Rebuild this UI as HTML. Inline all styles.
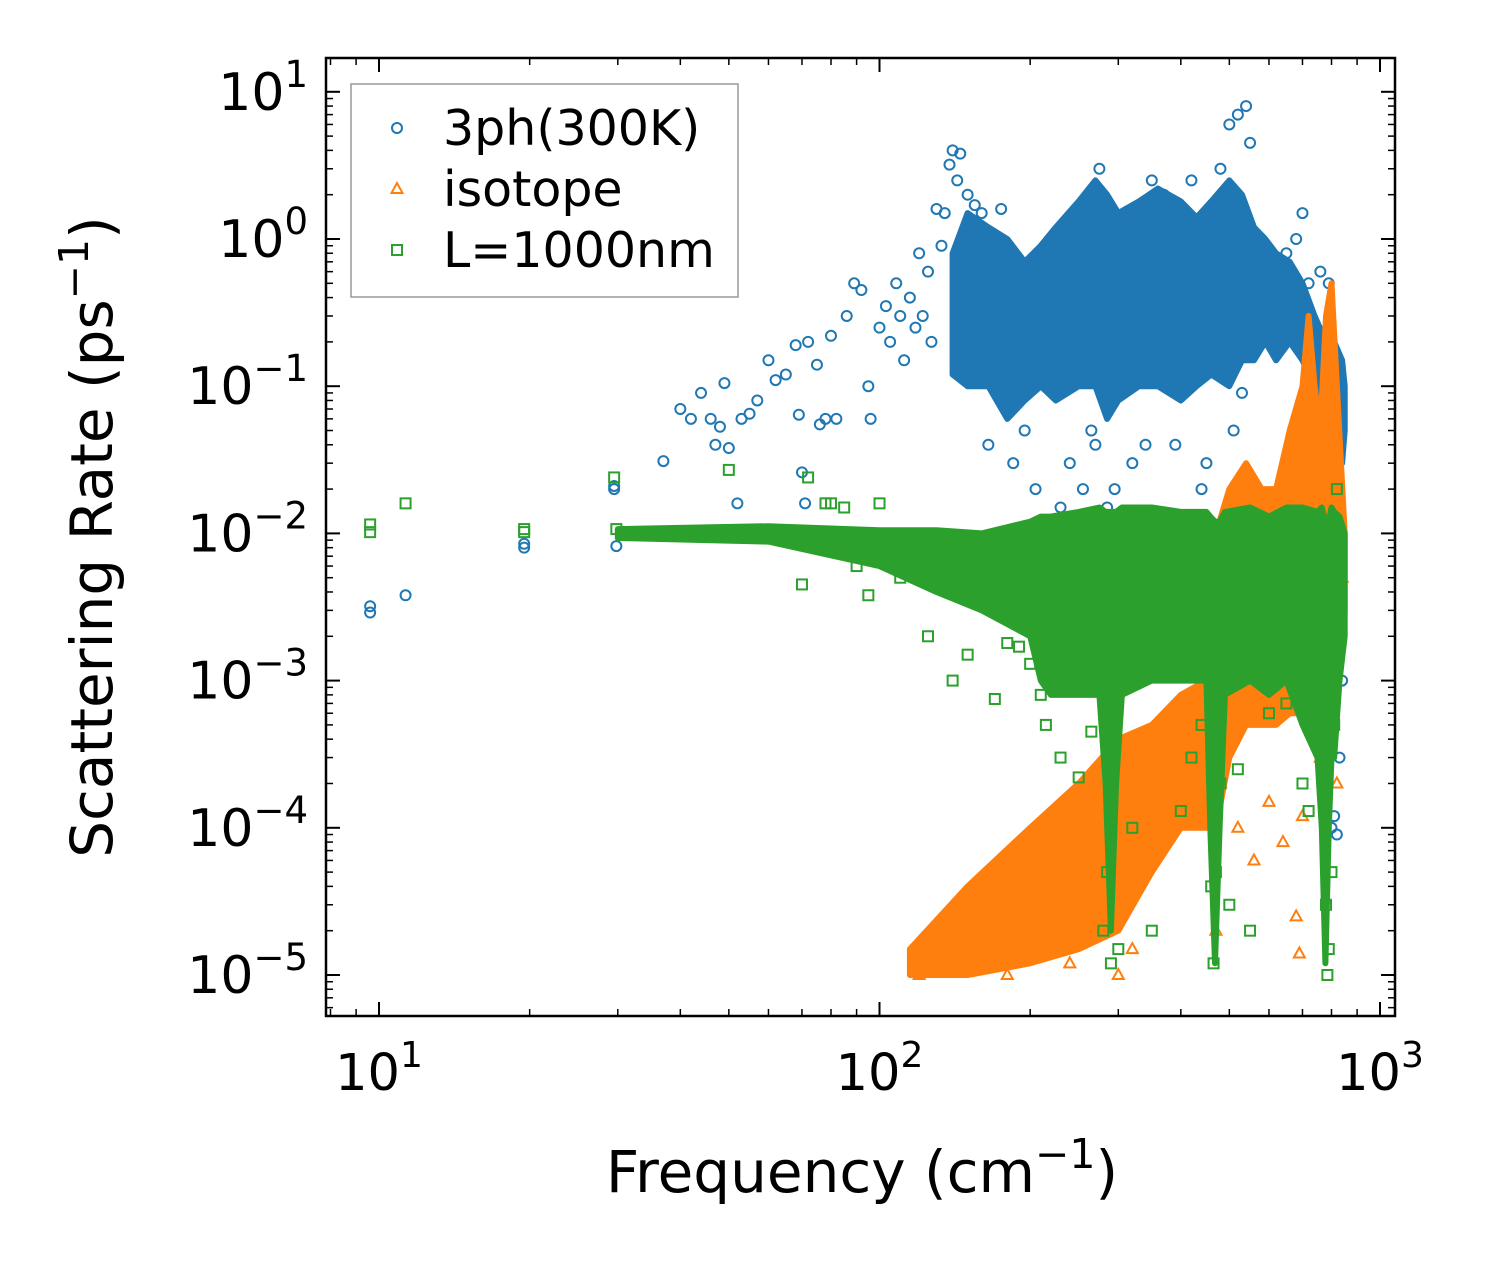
<!DOCTYPE html>
<html><head><meta charset="utf-8"><style>
html,body{margin:0;padding:0;background:#fff;}
svg{display:block;font-family:"DejaVu Sans","Liberation Sans",sans-serif;}
</style></head><body>
<svg id="chart" width="1489" height="1265" viewBox="0 0 1489 1265" xmlns="http://www.w3.org/2000/svg">
<rect width="1489" height="1265" fill="#fff"/>
<defs><clipPath id="clip"><rect x="326" y="58" width="1069" height="958"/></clipPath></defs>
<g id="plot"></g>
<g id="axes"></g>
</svg>
<script>
// ---- data (frequency cm^-1, rate ps^-1) ----
const blueBandF  = [140,150,165,180,195,210,225,250,270,285,300,330,360,400,430,460,500,530,560,590,620,660,700,740,780,810,840,850];
const blueBandLo = [0.12,0.1,0.1,0.06,0.08,0.1,0.08,0.1,0.1,0.06,0.08,0.1,0.1,0.08,0.1,0.12,0.1,0.15,0.15,0.2,0.15,0.2,0.15,0.1,0.06,0.03,0.03,0.05];
const blueBandHi = [0.8,1.5,1.2,1.0,0.7,0.9,1.2,1.8,2.5,2.0,1.5,1.8,2.2,1.8,1.4,1.8,2.5,2.0,1.2,1.0,0.8,0.7,0.5,0.3,0.2,0.2,0.15,0.1];
const bluePtsF = [9.6,9.6,11.3,19.5,19.5,29.5,29.5,29.8,37,40,42,44,46,47,48,49,50,52,53,55,57,60,62,65,68,69,70,71,72,75,76,78,80,82,86,89,92,95,96,100,103,105,108,110,112,115,118,120,122,125,127,130,133,135,138,140,143,145,150,155,160,165,170,175,185,195,205,215,230,240,255,265,270,275,285,295,310,320,340,350,370,390,410,420,440,450,470,480,500,510,520,530,540,550,600,650,680,700,720,760,780,790,800,810,820,830,840];
const bluePtsY = [0.0032,0.0029,0.0038,0.0085,0.008,0.02,0.021,0.0082,0.031,0.07,0.06,0.09,0.06,0.04,0.053,0.105,0.038,0.016,0.06,0.065,0.08,0.15,0.11,0.12,0.19,0.064,0.026,0.016,0.2,0.14,0.055,0.06,0.22,0.06,0.3,0.5,0.45,0.1,0.06,0.25,0.35,0.2,0.5,0.3,0.15,0.4,0.25,0.8,0.3,0.6,0.2,1.6,0.9,1.5,3.2,4.0,2.5,3.8,2.0,1.7,1.5,0.04,0.5,1.6,0.03,0.05,0.02,0.01,0.015,0.03,0.02,0.05,0.04,3.0,0.015,0.02,0.012,0.03,0.04,2.5,2.0,0.04,0.01,2.5,0.02,0.03,1.2,3.0,6.0,0.05,7.0,0.09,8.0,4.5,0.3,0.8,1.0,1.5,0.5,0.6,0.05,0.5,0.0001,0.00012,0.00009,0.0003,0.001,0.005,0.08];
const orgBandF  = [115,150,200,250,300,350,400,450,470,500,540,580,620,660,700,720,740,760,780,800,820,850];
const orgBandLo = [1e-5,1e-5,1.2e-5,1.5e-5,2e-5,5e-5,1e-4,1e-4,1e-4,3e-4,5e-4,5e-4,5e-4,6e-4,6e-4,5e-4,5e-4,5e-4,3e-4,3e-4,1e-3,3e-3];
const orgBandHi = [1.5e-5,4e-5,1e-4,2e-4,4e-4,5e-4,8e-4,1e-3,0.01,0.02,0.03,0.02,0.02,0.05,0.1,0.3,0.1,0.05,0.3,0.5,0.1,0.01];
const orgPtsF = [120,135,160,180,240,300,320,380,470,480,520,560,600,640,680,690,700,760,820,830,840];
const orgPtsY = [1e-5,1.2e-5,1.1e-5,1e-5,1.2e-5,1e-5,1.5e-5,3e-4,2e-5,2e-4,1e-4,6e-5,1.5e-4,8e-5,2.5e-5,1.4e-5,1.2e-4,3e-4,2e-4,0.01,5e-3];
const grnBandF  = [30,60,100,130,160,200,210,220,250,275,283,290,297,305,350,400,450,458,468,478,490,550,600,650,700,750,765,778,790,800,810,830,850];
const grnBandLo = [0.0093,0.0088,0.006,0.004,0.003,0.002,0.001,0.0008,0.0008,0.0008,0.0002,2e-5,0.0002,0.0008,0.001,0.001,0.001,0.0001,1.2e-5,0.0001,0.0008,0.001,0.0008,0.001,0.0005,0.0003,0.0001,1.2e-5,0.0001,0.0003,0.0003,0.001,0.002];
const grnBandHi = [0.0107,0.0112,0.0105,0.0105,0.01,0.012,0.013,0.013,0.014,0.015,0.014,0.014,0.014,0.015,0.015,0.014,0.014,0.013,0.012,0.012,0.014,0.015,0.013,0.015,0.015,0.014,0.015,0.012,0.012,0.015,0.014,0.013,0.01];
const grnPtsF = [9.6,9.6,11.3,19.5,19.5,29.5,29.8,50,70,72,78,80,85,90,95,100,110,125,140,150,170,180,190,200,210,215,230,250,265,280,285,290,300,320,350,400,420,440,460,465,470,480,500,520,550,600,650,700,720,760,780,785,790,800,810,820];
const grnPtsY = [0.0115,0.0102,0.016,0.0107,0.0102,0.024,0.0107,0.027,0.0045,0.024,0.016,0.016,0.015,0.006,0.0038,0.016,0.005,0.002,0.001,0.0015,0.00075,0.0018,0.0017,0.0013,0.0008,0.0005,0.0003,0.00022,0.00045,2e-5,5e-5,1.2e-5,1.5e-5,0.0001,2e-5,0.00013,0.0003,0.0005,4e-5,1.2e-5,5e-5,0.0002,3e-5,0.00025,2e-5,0.0006,0.0007,0.0002,0.00013,0.0004,3e-5,1e-5,1.5e-5,5e-5,0.0005,0.02];

// ---- scales ----
const X0=379, PXD=500.5, Y0=975, PYD=147.2;
const L=326,R=1395,T=58,B=1016;
function xs(f){return X0+(Math.log10(f)-1)*PXD;}
function ys(v){return Y0-(Math.log10(v)+5)*PYD;}
const NS="http://www.w3.org/2000/svg";
function mk(tag,attrs,parent){const e=document.createElementNS(NS,tag);for(const k in attrs)e.setAttribute(k,attrs[k]);parent.appendChild(e);return e;}
const plot=document.getElementById('plot'), axes=document.getElementById('axes');

function band(F,lo,hi,color,name){
  let d='M'+F.map((f,i)=>xs(f).toFixed(1)+','+ys(hi[i]).toFixed(1)).join('L');
  for(let i=F.length-1;i>=0;i--) d+='L'+xs(F[i]).toFixed(1)+','+ys(lo[i]).toFixed(1);
  const p=mk('path',{d:d+'Z',fill:color,stroke:color,'stroke-width':6,'stroke-linejoin':'round','clip-path':'url(#clip)'},plot);
  
  
}
function marker(kind,cx,cy,color,parent){
  let e;
  if(kind==='o') e=mk('circle',{cx:cx,cy:cy,r:5,fill:'none',stroke:color,'stroke-width':2},parent);
  else if(kind==='s') e=mk('rect',{x:cx-5,y:cy-5,width:10,height:10,fill:'none',stroke:color,'stroke-width':2},parent);
  else e=mk('path',{d:`M${cx},${cy-6}L${cx+5.5},${cy+4}L${cx-5.5},${cy+4}Z`,fill:'none',stroke:color,'stroke-width':2},parent);
  return e;
}
function pts(F,Y,kind,color,name){
  F.forEach((f,i)=>{const e=marker(kind,xs(f),ys(Y[i]),color,plot);
    
    });
}
const BLUE='#1f77b4',ORG='#ff7f0e',GRN='#2ca02c';
band(blueBandF,blueBandLo,blueBandHi,BLUE,'3ph-dense-band');
pts(bluePtsF,bluePtsY,'o',BLUE,'3ph-point');
band(orgBandF,orgBandLo,orgBandHi,ORG,'isotope-dense-band');
pts(orgPtsF,orgPtsY,'t',ORG,'isotope-point');
band(grnBandF,grnBandLo,grnBandHi,GRN,'boundary-dense-band');
pts(grnPtsF,grnPtsY,'s',GRN,'boundary-point');

// ---- axes frame & ticks ----
mk('rect',{x:L,y:T,width:R-L,height:B-T,fill:'none',stroke:'#000','stroke-width':2.5},axes);
const xMajor=[1,2,3], yMajor=[1,0,-1,-2,-3,-4,-5];
function tick(x1,y1,x2,y2,w){mk('line',{x1,y1,x2,y2,stroke:'#000','stroke-width':w},axes);}
xMajor.forEach(e=>{const x=xs(Math.pow(10,e));tick(x,B,x,B-14,2);tick(x,T,x,T+14,2);
  const t=mk('text',{x:x,y:1090,'font-size':51,'text-anchor':'middle'},axes);
  
  
  t.innerHTML='10<tspan dy="-23" font-size="36">'+e+'</tspan>';});
for(let e=0;e<3;e++)for(let m=2;m<10;m++){const f=m*Math.pow(10,e);const x=xs(f);if(x<L||x>R)continue;tick(x,B,x,B-7,1.5);tick(x,T,x,T+7,1.5);}
yMajor.forEach(e=>{const y=ys(Math.pow(10,e));tick(L,y,L+14,y,2);tick(R,y,R-14,y,2);
  const t=mk('text',{x:308,y:y+18,'font-size':52,'text-anchor':'end'},axes);
  
  
  const s=e<0?'\u2212'+(-e):''+e;
  t.innerHTML='10<tspan dy="-23" font-size="37">'+s+'</tspan>';});
for(let e=-6;e<2;e++)for(let m=2;m<10;m++){const y=ys(m*Math.pow(10,e));if(y<T||y>B)continue;tick(L,y,L+7,y,1.5);tick(R,y,R-7,y,1.5);}

// titles
let t=mk('text',{x:862,y:1192,'font-size':58,'text-anchor':'middle'},axes);


t.innerHTML='Frequency (cm<tspan dy="-24" font-size="41">\u22121</tspan><tspan dy="24">)</tspan>';
t=mk('text',{x:0,y:0,'font-size':58,'text-anchor':'middle',transform:'translate(112,537) rotate(-90)'},axes);


t.innerHTML='Scattering Rate (ps<tspan dy="-24" font-size="41">\u22121</tspan><tspan dy="24">)</tspan>';

// legend
const lg=mk('g',{},axes);


mk('rect',{x:351,y:84,width:387,height:213,fill:'#fff',stroke:'#999','stroke-width':1.5},lg);
const legNames=['3ph(300K)','isotope','L=1000nm'],legKinds=['o','t','s'],legCols=[BLUE,ORG,GRN];
legNames.forEach((n,i)=>{const y=128+i*61;
  const m=marker(legKinds[i],397,y,legCols[i],lg);
  
  
  const tx=mk('text',{x:443,y:y+17,'font-size':49},lg);
  
  
  tx.textContent=n;});
</script>
</body></html>
